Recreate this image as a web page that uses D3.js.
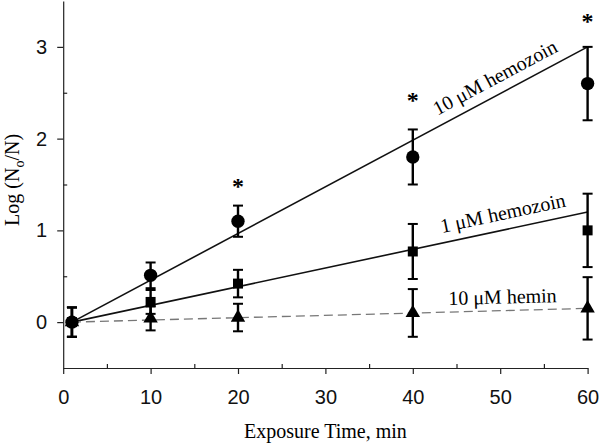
<!DOCTYPE html>
<html>
<head>
<meta charset="utf-8">
<script src="https://cdnjs.cloudflare.com/ajax/libs/d3/7.8.5/d3.min.js"></script>
<style>
  html, body { margin: 0; padding: 0; background: #fff; }
  svg { display: block; }
</style>
</head>
<body>
<svg id="chart" width="600" height="445"></svg>
<script>
// ---- data ----
const times = [1, 10, 20, 40, 60];
const hemozoin10 = [0, 0.51, 1.10, 1.80, 2.60];
const hemozoin10Err = [0.16, 0.14, 0.17, 0.30, 0.40];
const hemozoin1 = [0, 0.22, 0.42, 0.77, 1.00];
const hemozoin1Err = [0.16, 0.13, 0.15, 0.30, 0.40];
const hemin10 = [0, 0.04, 0.05, 0.10, 0.15];
const hemin10Err = [0.16, 0.13, 0.15, 0.26, 0.34];

const fitX = [1, 60];
const fitHemozoin10 = [0.0, 3.0];
const fitHemozoin1 = [0.0, 1.2];
const fitHemin10 = [0.0, 0.15];

const seriesNames = ["10 μM hemozoin", "1 μM hemozoin", "10 μM hemin"];
const labelAtX = [50.3, 50.7, 50.3];

const starX = [20, 40, 60];
const starY = [1.52, 2.45, 3.31];

const xTicks = [0, 10, 20, 30, 40, 50, 60];
const xMinorTicks = [5, 15, 25, 35, 45, 55];
const yTicks = [0, 1, 2, 3];
const yMinorTicks = [0.5, 1.5, 2.5];

const xTitle = "Exposure Time, min";

// ---- drawing ----
const svg = d3.select("#chart");
const x = d3.scaleLinear().domain([0, 60]).range([63.2, 587.6]);
const y = d3.scaleLinear().domain([-0.5, 3.5]).range([368, 1]);
const axisColor = "#222";

// axes
svg.append("g").attr("transform", `translate(0,${y(-0.5)})`)
  .call(d3.axisBottom(x).tickValues(xTicks).tickFormat(d3.format("d")).tickSize(6).tickPadding(16).tickSizeOuter(0));
const gxm = svg.append("g").attr("transform", `translate(0,${y(-0.5)})`)
  .call(d3.axisBottom(x).tickValues(xMinorTicks).tickSize(-4).tickFormat("").tickSizeOuter(0));
gxm.select(".domain").remove();

svg.append("g").attr("transform", `translate(${x(0)},0)`)
  .call(d3.axisLeft(y).tickValues(yTicks).tickFormat(d3.format("d")).tickSize(6).tickPadding(10).tickSizeOuter(0));
const gym = svg.append("g").attr("transform", `translate(${x(0)},0)`)
  .call(d3.axisLeft(y).tickValues(yMinorTicks).tickSize(-4).tickFormat("").tickSizeOuter(0));
gym.select(".domain").remove();

svg.selectAll(".domain, .tick line").attr("stroke", axisColor).attr("stroke-width", 1.2);
svg.selectAll(".tick text")
  .attr("fill", "#111")
  .style("font-family", "'Liberation Sans', Arial, sans-serif")
  .style("font-size", "20px");

// axis titles
svg.append("text")
  .attr("x", x(30)).attr("y", 438)
  .attr("text-anchor", "middle")
  .style("font-family", "'Liberation Serif', 'Times New Roman', serif")
  .style("font-size", "20px")
  .text(xTitle);

const yt = svg.append("text")
  .attr("transform", `translate(19,${y(1.55)}) rotate(-90)`)
  .attr("text-anchor", "middle")
  .style("font-family", "'Liberation Serif', 'Times New Roman', serif")
  .style("font-size", "20px");
yt.append("tspan").text("Log (N");
yt.append("tspan").attr("dy", 5).style("font-size", "14px").text("o");
yt.append("tspan").attr("dy", -5).text("/N)");

// fit lines
const fits = [fitHemozoin10, fitHemozoin1, fitHemin10];
const lineGen = d3.line().x(d => x(d[0])).y(d => y(d[1]));
fits.forEach((f, i) => {
  svg.append("path")
    .datum(fitX.map((t, j) => [t, f[j]]))
    .attr("d", lineGen)
    .attr("fill", "none")
    .attr("stroke", i === 2 ? "#777" : "#111")
    .attr("stroke-width", i === 2 ? 1.3 : 1.6)
    .attr("stroke-dasharray", i === 2 ? "9,5" : null);
});

// line labels
const offsets = [10, 10, 7];
fits.forEach((f, i) => {
  const px0 = x(fitX[0]), py0 = y(f[0]), px1 = x(fitX[1]), py1 = y(f[1]);
  const ang = Math.atan2(py1 - py0, px1 - px0) * 180 / Math.PI;
  const t = (labelAtX[i] - fitX[0]) / (fitX[1] - fitX[0]);
  const lv = f[0] + t * (f[1] - f[0]);
  svg.append("text")
    .attr("transform", `translate(${x(labelAtX[i])},${y(lv)}) rotate(${ang})`)
    .attr("dy", -offsets[i])
    .attr("text-anchor", "middle")
    .style("font-family", "'Liberation Serif', 'Times New Roman', serif")
    .style("font-size", "20px")
    .text(seriesNames[i]);
});

// error bars + markers
const series = [
  {v: hemin10, e: hemin10Err, m: "triangle"},
  {v: hemozoin1, e: hemozoin1Err, m: "square"},
  {v: hemozoin10, e: hemozoin10Err, m: "circle"}
];
const capW = 5;
series.forEach(s => {
  const g = svg.append("g");
  times.forEach((t, i) => {
    const cx = x(t), lo = y(s.v[i] - s.e[i]), hi = y(s.v[i] + s.e[i]);
    g.append("line").attr("x1", cx).attr("x2", cx).attr("y1", lo).attr("y2", hi)
      .attr("stroke", "#000").attr("stroke-width", 2.4);
    [lo, hi].forEach(yy => g.append("line")
      .attr("x1", cx - capW).attr("x2", cx + capW).attr("y1", yy).attr("y2", yy)
      .attr("stroke", "#000").attr("stroke-width", 2));
  });
});
series.forEach(s => {
  const sym = s.m === "circle" ? d3.symbolCircle : s.m === "square" ? d3.symbolSquare : d3.symbolTriangle;
  const size = s.m === "circle" ? 140 : s.m === "square" ? 100 : 90;
  svg.append("g").selectAll("path")
    .data(times.map((t, i) => [t, s.v[i]]))
    .join("path")
    .attr("transform", d => `translate(${x(d[0])},${y(d[1])})`)
    .attr("d", d3.symbol().type(sym).size(size))
    .attr("fill", "#000");
});

// significance asterisks
svg.append("g").selectAll("text")
  .data(starX.map((t, i) => [t, starY[i]]))
  .join("text")
  .attr("x", d => x(d[0]))
  .attr("y", d => y(d[1]) + 11)
  .attr("text-anchor", "middle")
  .style("font-family", "'Liberation Serif', 'Times New Roman', serif")
  .style("font-size", "24px")
  .style("font-weight", "bold")
  .text("*");
</script>
</body>
</html>
